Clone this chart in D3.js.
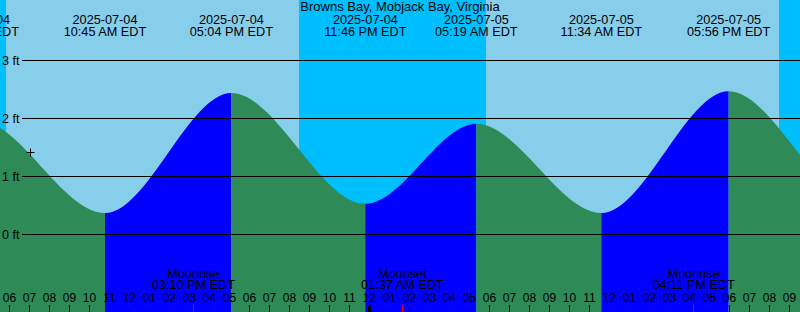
<!DOCTYPE html>
<html>
<head>
<meta charset="utf-8">
<script src="https://cdn.jsdelivr.net/npm/d3@7"></script>
<style>
body { margin: 0; background: #fff; }
svg { display: block; }
text { font-family: "Liberation Sans", Arial, sans-serif; fill: #000; }
</style>
</head>
<body>
<script>
// station + data
const stationName = 'Browns Bay, Mobjack Bay, Virginia'
const tideTimes = ['2025-07-03 22:10', '2025-07-04 04:23', '2025-07-04 10:45', '2025-07-04 17:04', '2025-07-04 23:46',
                   '2025-07-05 05:19', '2025-07-05 11:34', '2025-07-05 17:56', '2025-07-06 00:20', '2025-07-06 06:30']
const tideLevels = [0.55, 1.97, 0.37, 2.44, 0.53, 1.91, 0.37, 2.47, 0.6, 1.9]   // ft
const sunTimes = ['2025-07-04 05:48', '2025-07-04 20:27', '2025-07-05 05:48', '2025-07-05 20:27']  // rise, set, rise, set
const moonTimes = ['2025-07-04 15:10', '2025-07-05 01:37', '2025-07-05 16:11']
const moonEvents = ['Moonrise', 'Moonset', 'Moonrise']
const levelTicks = [0, 1, 2, 3]
const nowMark = ['2025-07-04 07:00', 1.41]

const width = 800, height = 312
const dayColor = '#87CEEB', nightColor = '#00BFFF'
const fallColor = '#2E8B57', riseColor = '#0000FF'

const parse = d3.timeParse('%Y-%m-%d %H:%M')
const fmtDate = d3.timeFormat('%Y-%m-%d')
const fmtTime = d3.timeFormat('%I:%M %p EDT')

const start = parse('2025-07-04 05:30'), end = parse('2025-07-05 21:30')

const x = d3.scaleTime().domain([start, end]).range([0, width])
const y = d3.scaleLinear().domain([0, 3]).range([234.5, 60.5])

const tide = tideTimes.map((t, i) => ({t: parse(t), v: tideLevels[i]}))
const suns = sunTimes.map(parse)

const svg = d3.select('body').append('svg')
    .attr('width', width)
    .attr('height', height)

// sky: day everywhere, night bands on top
svg.append('rect').attr('width', width).attr('height', height).attr('fill', dayColor)

const nights = [[start, suns[0]], [suns[1], suns[2]], [suns[3], end]]
svg.selectAll('rect.night').data(nights).join('rect')
    .attr('class', 'night')
    .attr('x', d => x(d[0]))
    .attr('width', d => x(d[1]) - x(d[0]))
    .attr('y', 0)
    .attr('height', height)
    .attr('fill', nightColor)

// tide area, coloured per rising / falling stretch
const area = d3.area()
    .x(d => x(d.t))
    .y0(height)
    .y1(d => y(d.v))
    .curve(d3.curveMonotoneX)

const defs = svg.append('defs')
const segs = d3.pairs(tide)
segs.forEach((p, i) => {
    defs.append('clipPath').attr('id', 'seg' + i)
        .append('rect')
        .attr('x', x(p[0].t))
        .attr('width', x(p[1].t) - x(p[0].t))
        .attr('y', 0)
        .attr('height', height)
    svg.append('path')
        .attr('d', area(tide))
        .attr('clip-path', `url(#seg${i})`)
        .attr('fill', p[1].v > p[0].v ? riseColor : fallColor)
})

// level grid
const grid = svg.append('g')
grid.selectAll('line').data(levelTicks).join('line')
    .attr('x1', 22).attr('x2', width)
    .attr('y1', d => y(d)).attr('y2', d => y(d))
    .attr('stroke', '#000')
grid.selectAll('text').data(levelTicks).join('text')
    .attr('x', 2)
    .attr('y', d => y(d) + 4.5)
    .attr('font-size', '12.5px')
    .text(d => d + ' ft')

// title and high / low labels
svg.append('text')
    .attr('x', width / 2).attr('y', 11)
    .attr('text-anchor', 'middle')
    .attr('font-size', '13px')
    .text(stationName)

const labelled = tide.filter(d => x(d.t) > -60 && x(d.t) < width + 40)
const tl = svg.append('g').attr('text-anchor', 'middle').attr('font-size', '12.7px')
tl.selectAll('text.date').data(labelled).join('text')
    .attr('class', 'date')
    .attr('x', d => x(d.t)).attr('y', 24)
    .text(d => fmtDate(d.t))
tl.selectAll('text.time').data(labelled).join('text')
    .attr('class', 'time')
    .attr('x', d => x(d.t)).attr('y', 36)
    .text(d => fmtTime(d.t))

// moon events
const moon = moonTimes.map((t, i) => ({t: parse(t), name: moonEvents[i]}))
const ml = svg.append('g').attr('text-anchor', 'middle').attr('font-size', '12.7px')
ml.selectAll('text.ev').data(moon).join('text')
    .attr('class', 'ev')
    .attr('x', d => x(d.t)).attr('y', 278)
    .text(d => d.name)
ml.selectAll('text.tm').data(moon).join('text')
    .attr('class', 'tm')
    .attr('x', d => x(d.t)).attr('y', 289)
    .text(d => fmtTime(d.t))

// hour axis along the bottom
const axis = d3.axisTop(x)
    .ticks(d3.timeHour.every(1))
    .tickFormat(d3.timeFormat('%I'))
    .tickSize(7)
    .tickPadding(3)
    .offset(-0.5)

const ax = svg.append('g')
    .attr('transform', `translate(0,${height})`)
    .call(axis)
ax.select('.domain').remove()
ax.attr('font-family', null).attr('font-size', '12px')
ax.selectAll('line').attr('stroke', '#000')
ax.selectAll('text').attr('fill', '#000')

// day boundary
svg.selectAll('rect.midnight').data(d3.timeDay.range(start, end)).join('rect')
    .attr('class', 'midnight')
    .attr('x', d => Math.round(x(d)) - 2)
    .attr('width', 3)
    .attr('y', height - 7)
    .attr('height', 7)
    .attr('fill', '#000')

// moon ticks
svg.selectAll('line.moon').data(moon).join('line')
    .attr('class', 'moon')
    .attr('x1', d => Math.floor(x(d.t)) + 0.5).attr('x2', d => Math.floor(x(d.t)) + 0.5)
    .attr('y1', height - 7).attr('y2', height)
    .attr('stroke', '#FF0000')

// current time cross
const cx = Math.floor(x(parse(nowMark[0]))) + 0.5
const cy = Math.floor(y(nowMark[1])) + 0.5
svg.append('path')
    .attr('d', `M${cx - 4},${cy}H${cx + 4}M${cx},${cy - 4}V${cy + 4}`)
    .attr('stroke', '#000')
    .attr('fill', 'none')
</script>
</body>
</html>
